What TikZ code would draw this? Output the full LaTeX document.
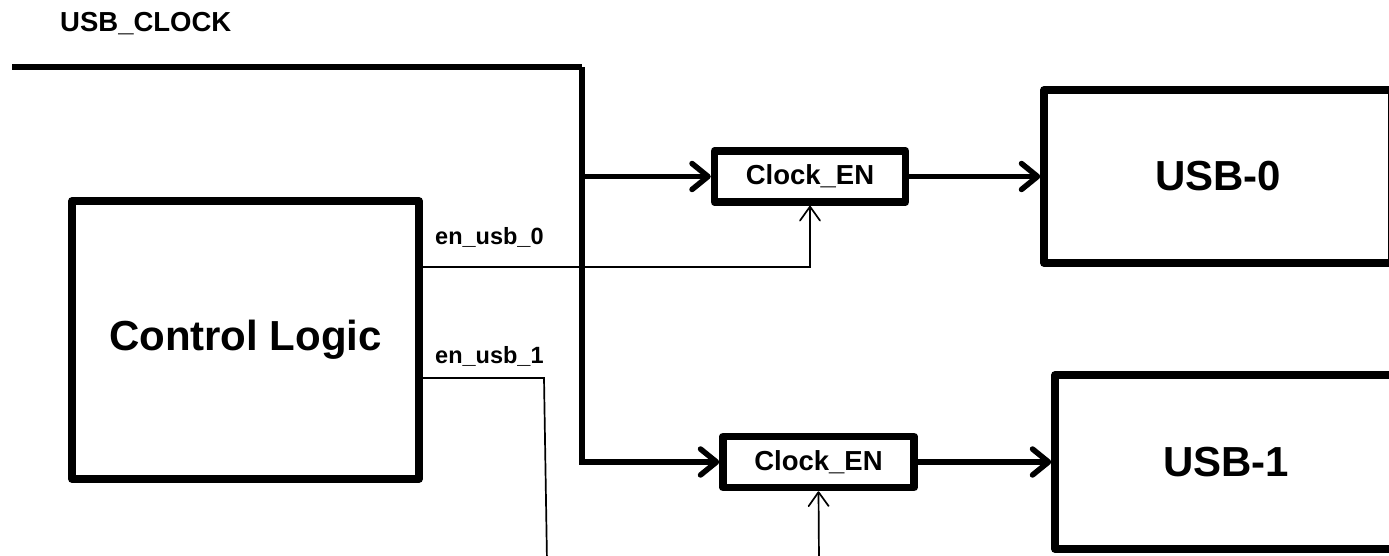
\documentclass[tikz,border=0pt]{standalone}
\usepackage{fontspec}
\setmainfont{Liberation Sans}
\usetikzlibrary{arrows.meta}
\tikzset{
  blockbox/.style={draw, line width=7.5pt, line join=round, inner sep=0pt,
    font=\fontsize{42}{46}\selectfont\bfseries},
  enbox/.style={draw, line width=7.5pt, line join=round, inner sep=0pt,
    minimum width=191pt, minimum height=51pt,
    font=\fontsize{27.5}{30}\selectfont\bfseries},
  bus/.style={line width=5.5pt},
  sig/.style={line width=1.7pt},
  busarrow/.style={bus, -{Straight Barb[length=16pt,width=26pt,line cap=round,line join=round]}},
  sigarrow/.style={sig, -{Straight Barb[length=14pt,width=20pt,line cap=round,line join=round]}},
  lbl/.style={anchor=base west, inner sep=0pt},
  biglbl/.style={lbl, font=\fontsize{27.5}{30}\selectfont\bfseries},
  smalllbl/.style={lbl, font=\fontsize{23.5}{26}\selectfont\bfseries}
}
\begin{document}
\begin{tikzpicture}[x=1pt, y=-1pt]
  \useasboundingbox (0,0) rectangle (1389,556);
  \fill[white] (0,0) rectangle (1389,556);

  % blocks
  \node[blockbox, minimum width=347pt, minimum height=278pt] (ctl) at (245.5,340) {Control Logic};
  \node[enbox] (ce0) at (810,176.5) {Clock\_EN};
  \node[enbox] (ce1) at (818.5,462) {Clock\_EN};
  \node[blockbox, minimum width=348pt, minimum height=173pt] (usb0) at (1218,176.5) {USB-0};
  \node[blockbox, minimum width=342pt, minimum height=174pt] (usb1) at (1226,462) {USB-1};

  % labels
  \node[biglbl] (lclk) at (60,32) {USB\_CLOCK};
  \node[smalllbl] (len0) at (435,244) {en\_usb\_0};
  \node[smalllbl] (len1) at (435,363) {en\_usb\_1};

  % clock distribution
  \coordinate (clkin) at (12,67);
  \coordinate (clkturn) at (582,67);
  \draw[bus] (clkin) -- (clkturn);
  \draw[busarrow] (clkturn) -- (clkturn |- ce1.west) -- (ce1.west);
  \draw[busarrow] (clkturn |- ce0.west) -- (ce0.west);

  % gated clocks to the ports
  \draw[busarrow] (ce0.east) -- (usb0.west);
  \draw[busarrow] (ce1.east) -- (usb1.west);

  % enable signals
  \coordinate (en0y) at (0,267);
  \draw[sigarrow] (ctl.east |- en0y) -| (ce0.south);
  \coordinate (en1y) at (0,378);
  \coordinate (en1turn) at (544,378);
  \coordinate (en1end) at (547,562);
  \draw[sig] (ctl.east |- en1y) -- (en1turn) -- (en1end);
  \coordinate (ce1feed) at (819,562);
  \draw[sigarrow] (ce1feed) -- (ce1.south);
\end{tikzpicture}
\end{document}
